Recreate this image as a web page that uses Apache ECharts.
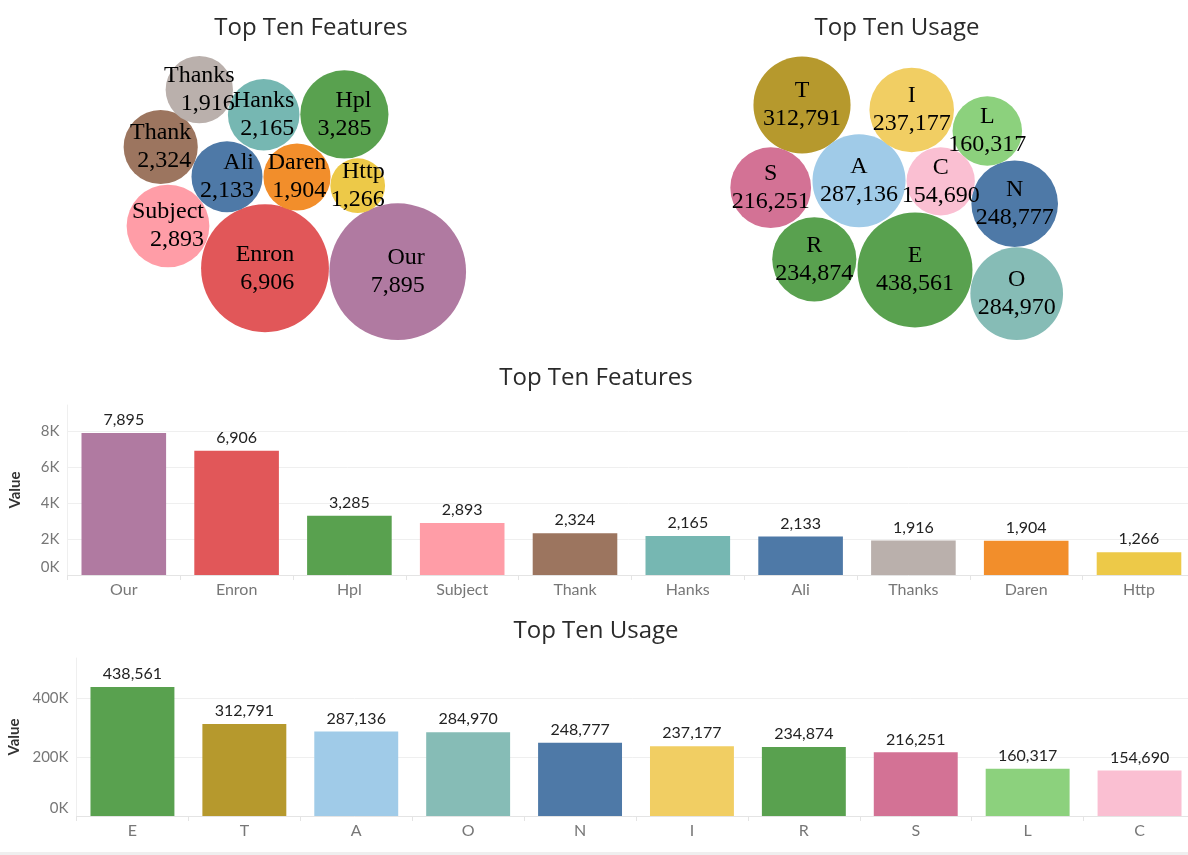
<!DOCTYPE html>
<html>
<head>
<meta charset="utf-8">
<title>Top Ten Features / Usage</title>
<script src="https://cdn.jsdelivr.net/npm/echarts@6/dist/echarts.min.js"></script>
<style>
  html, body { margin: 0; padding: 0; background: #fff; }
  #main { width: 1188px; height: 855px; }
</style>
</head>
<body>
<div id="main"></div>
<script>
// data
var featureNames  = ['Our', 'Enron', 'Hpl', 'Subject', 'Thank', 'Hanks', 'Ali', 'Thanks', 'Daren', 'Http'];
var featureValues = [7895, 6906, 3285, 2893, 2324, 2165, 2133, 1916, 1904, 1266];
var featureColors = ['#B07AA1', '#E15759', '#59A14F', '#FF9DA7', '#9C755F', '#76B7B2', '#4E79A7', '#BAB0AC', '#F28E2B', '#EDC948'];

var usageNames  = ['E', 'T', 'A', 'O', 'N', 'I', 'R', 'S', 'L', 'C'];
var usageValues = [438561, 312791, 287136, 284970, 248777, 237177, 234874, 216251, 160317, 154690];
var usageColors = ['#59A14F', '#B6992D', '#A0CBE8', '#86BCB6', '#4E79A7', '#F1CE63', '#59A14F', '#D37295', '#8CD17D', '#FABFD2'];

// packed bubble layout: circle centres inside each bubble panel (panel units)
var featurePackX = [287.7, 155.0, 234.4, 58.0, 50.7, 153.7, 117.0, 89.3, 187.0, 247.7];
var featurePackY = [221.7, 218.3, 64.4, 176.0, 97.0, 64.7, 126.7, 39.7, 127.0, 135.7];
var usagePackX = [195.0, 82.0, 139.0, 296.7, 294.7, 191.7, 94.3, 50.7, 267.3, 220.7];
var usagePackY = [220.0, 55.0, 130.7, 243.7, 153.7, 60.0, 209.3, 137.7, 81.0, 131.3];

var FONT = 'Lato, "Open Sans", sans-serif';
var TITLE_FONT = '"Open Sans", Lato, sans-serif';

function fmt(v) { return Number(v).toLocaleString('en-US'); }

function bubbleData(names, values, colors, px, py) {
    return names.map(function (n, i) {
        return { name: n, value: [px[i], py[i], values[i]], itemStyle: { color: colors[i] } };
    });
}

var featureMax = Math.max.apply(null, featureValues);
var usageMax = Math.max.apply(null, usageValues);

var myChart = echarts.init(document.getElementById('main'));

var barLabel = { show: true, position: 'top', distance: 5, color: '#222', fontSize: 16, fontFamily: FONT,
    formatter: function (p) { return fmt(p.value); } };

function barX(names, idx) {
    return {
        gridIndex: idx, type: 'category', data: names,
        axisLine: { lineStyle: { color: '#e4e4e4' } },
        axisTick: { show: true, length: 5, lineStyle: { color: '#e4e4e4' } },
        axisLabel: { color: '#777', fontSize: 16, fontFamily: FONT, margin: 7 }
    };
}
function barY(idx, max, interval, gap) {
    return {
        gridIndex: idx, type: 'value', min: 0, max: max, interval: interval,
        name: 'Value', nameLocation: 'middle', nameGap: gap,
        nameTextStyle: { color: '#333', fontSize: 15, fontWeight: 'bold', fontFamily: FONT },
        axisLine: { show: true, lineStyle: { color: '#efefef' } },
        axisTick: { show: false },
        axisLabel: { color: '#777', fontSize: 15, fontFamily: FONT, margin: 8,
            showMaxLabel: false, verticalAlignMinLabel: 'bottom',
            formatter: function (v) { return (v / 1000) + 'K'; } },
        splitLine: { lineStyle: { color: '#efefef' }, showMaxLine: false }
    };
}

function titleAt(text, x, y) {
    return { text: text, left: x, top: y, textAlign: 'center', padding: 0,
        textStyle: { fontSize: 24, fontWeight: 'normal', color: '#2a2a2a', fontFamily: TITLE_FONT } };
}

var option = {
    animation: false,
    textStyle: { fontFamily: FONT },
    title: [
        titleAt('Top Ten Features', 311, 16),
        titleAt('Top Ten Usage', 897, 16),
        titleAt('Top Ten Features', 596, 366),
        titleAt('Top Ten Usage', 596, 619)
    ],
    grid: [
        { left: 110, top: 50, width: 370, height: 300, outerBoundsMode: 'none' },
        { left: 720, top: 50, width: 350, height: 300, outerBoundsMode: 'none' },
        { left: 67.4, top: 405, width: 1128, height: 170, outerBoundsMode: 'none' },
        { left: 76.5, top: 658, width: 1119, height: 158, outerBoundsMode: 'none' }
    ],
    xAxis: [
        { gridIndex: 0, type: 'value', min: 0, max: 370, show: false },
        { gridIndex: 1, type: 'value', min: 0, max: 350, show: false },
        barX(featureNames, 2),
        barX(usageNames, 3)
    ],
    yAxis: [
        { gridIndex: 0, type: 'value', min: 0, max: 300, inverse: true, show: false },
        { gridIndex: 1, type: 'value', min: 0, max: 300, inverse: true, show: false },
        barY(2, 9444, 2000, 45),
        barY(3, 537000, 200000, 54)
    ],
    series: [
        {
            type: 'scatter', xAxisIndex: 0, yAxisIndex: 0,
            data: bubbleData(featureNames, featureValues, featureColors, featurePackX, featurePackY),
            symbolSize: function (v) { return 136.7 * Math.sqrt(v[2] / featureMax); },
            itemStyle: { opacity: 1 },
            label: {
                show: true, position: 'inside',
                formatter: function (p) { return '{a|' + p.name + '}\n{a|' + fmt(p.value[2]) + '}'; },
                rich: { a: { align: 'right', fontFamily: '"Liberation Serif", serif', fontSize: 24, lineHeight: 28, color: '#000' } }
            }
        },
        {
            type: 'scatter', xAxisIndex: 1, yAxisIndex: 1,
            data: bubbleData(usageNames, usageValues, usageColors, usagePackX, usagePackY),
            symbolSize: function (v) { return 115 * Math.sqrt(v[2] / usageMax); },
            itemStyle: { opacity: 1 },
            label: {
                show: true, position: 'inside',
                formatter: function (p) { return '{a|' + p.name + '}\n{a|' + fmt(p.value[2]) + '}'; },
                rich: { a: { align: 'center', fontFamily: '"Liberation Serif", serif', fontSize: 24, lineHeight: 28, color: '#000' } }
            }
        },
        {
            type: 'bar', xAxisIndex: 2, yAxisIndex: 2, data: featureValues, barCategoryGap: '25%',
            itemStyle: { color: function (p) { return featureColors[p.dataIndex]; } },
            label: barLabel
        },
        {
            type: 'bar', xAxisIndex: 3, yAxisIndex: 3, data: usageValues, barCategoryGap: '25%',
            itemStyle: { color: function (p) { return usageColors[p.dataIndex]; } },
            label: barLabel
        }
    ],
    graphic: [
        { type: 'rect', left: 0, top: 852, shape: { width: 1188, height: 3 }, style: { fill: '#efefef' }, silent: true }
    ]
};
myChart.setOption(option);
</script>
</body>
</html>
